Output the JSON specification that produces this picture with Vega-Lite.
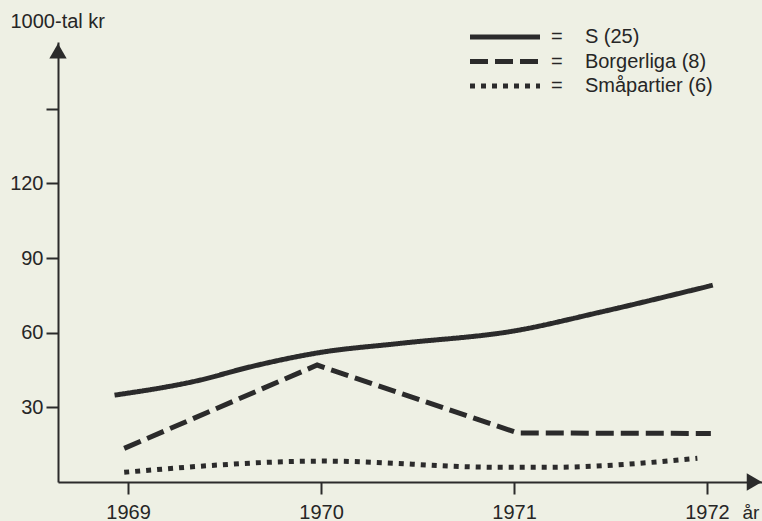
{
  "$schema": "https://vega.github.io/schema/vega-lite/v6.json",
  "width": 704,
  "height": 440,
  "autosize": {"type": "none"},
  "padding": {"left": 58, "top": 42, "right": 0, "bottom": 39},
  "background": "#eef0e4",
  "config": {
    "view": {"stroke": null},
    "font": "Liberation Sans",
    "axis": {
      "grid": false,
      "domainColor": "#2b2b2b",
      "domainWidth": 2,
      "tickColor": "#2b2b2b",
      "tickWidth": 2,
      "tickSize": 12,
      "labelColor": "#262626",
      "labelFontSize": 20,
      "titleColor": "#262626",
      "titleFontSize": 20,
      "titleFontWeight": "normal"
    }
  },
  "data": {
    "values": [
      {"year": 1968.93, "parti": "S (25)", "value": 34.9},
      {"year": 1969.37, "parti": "S (25)", "value": 40.9},
      {"year": 1969.63, "parti": "S (25)", "value": 46.2},
      {"year": 1970.0, "parti": "S (25)", "value": 52.1},
      {"year": 1970.41, "parti": "S (25)", "value": 55.7},
      {"year": 1971.0, "parti": "S (25)", "value": 60.7},
      {"year": 1971.45, "parti": "S (25)", "value": 68.3},
      {"year": 1972.03, "parti": "S (25)", "value": 79.1},
      {"year": 1968.98, "parti": "Borgerliga (8)", "value": 13.5},
      {"year": 1969.98, "parti": "Borgerliga (8)", "value": 47.0},
      {"year": 1971.02, "parti": "Borgerliga (8)", "value": 19.7},
      {"year": 1972.02, "parti": "Borgerliga (8)", "value": 19.5},
      {"year": 1968.98, "parti": "Småpartier (6)", "value": 3.9},
      {"year": 1970.02, "parti": "Småpartier (6)", "value": 8.4},
      {"year": 1970.93, "parti": "Småpartier (6)", "value": 5.9},
      {"year": 1971.18, "parti": "Småpartier (6)", "value": 5.9},
      {"year": 1971.95, "parti": "Småpartier (6)", "value": 9.5}
    ]
  },
  "layer": [
    {
      "transform": [{"filter": "datum.parti !== 'Borgerliga (8)'"}],
      "mark": {"type": "line", "interpolate": "monotone", "strokeWidth": 5, "color": "#2b2b2b", "strokeCap": "butt"},
      "encoding": {
        "x": {
          "field": "year", "type": "quantitative", "title": "år",
          "scale": {"domain": [1968.637, 1972.285], "nice": false, "zero": false},
          "axis": {
            "values": [1969, 1970, 1971, 1972], "format": "d", "labelPadding": 8, "labelFlush": false,
            "titleX": 684, "titleY": 36, "titleAlign": "left", "titleBaseline": "alphabetic", "titleFontSize": 19
          }
        },
        "y": {
          "field": "value", "type": "quantitative", "title": "1000-tal kr",
          "scale": {"domain": [0, 176.8], "nice": false},
          "axis": {
            "values": [30, 60, 90, 120, 150],
            "labelExpr": "datum.value == 150 ? '' : datum.label",
            "labelPadding": 3,
            "titleAngle": 0, "titleX": -48, "titleY": -15, "titleAlign": "left", "titleBaseline": "alphabetic"
          }
        },
        "strokeDash": {
          "field": "parti", "type": "nominal",
          "scale": {
            "domain": ["S (25)", "Borgerliga (8)", "Småpartier (6)"],
            "range": [[1, 0], [18, 7], [5, 6]]
          },
          "legend": {
            "orient": "none", "legendX": 437, "legendY": -15,
            "title": null, "padding": 0,
            "symbolType": "M-5,0L5,0", "symbolSize": 196,
            "symbolStrokeWidth": 5, "symbolStrokeColor": "#2b2b2b", "symbolFillColor": "transparent",
            "labelExpr": "'=\u00a0\u00a0\u00a0\u00a0' + datum.label",
            "labelFontSize": 20, "labelColor": "#262626", "labelOffset": 36, "labelLimit": 400,
            "rowPadding": 4.5
          }
        }
      }
    },
    {
      "transform": [{"filter": "datum.parti === 'Borgerliga (8)'"}],
      "mark": {"type": "line", "interpolate": "linear", "strokeWidth": 5, "color": "#2b2b2b", "strokeCap": "butt", "strokeJoin": "miter"},
      "encoding": {
        "x": {"field": "year", "type": "quantitative", "title": "år"},
        "y": {"field": "value", "type": "quantitative", "title": "1000-tal kr"},
        "strokeDash": {"field": "parti", "type": "nominal"}
      }
    },
    {
      "data": {"values": [{}]},
      "mark": {"type": "point", "shape": "triangle-up", "filled": true, "size": 300, "color": "#2b2b2b", "opacity": 1},
      "encoding": {
        "x": {"datum": 1968.637, "type": "quantitative", "title": "år"},
        "y": {"datum": 173.2, "type": "quantitative", "title": "1000-tal kr"}
      }
    },
    {
      "data": {"values": [{}]},
      "mark": {"type": "point", "shape": "triangle-right", "filled": true, "size": 300, "color": "#2b2b2b", "opacity": 1},
      "encoding": {
        "x": {"datum": 1972.245, "type": "quantitative", "title": "år"},
        "y": {"datum": 0, "type": "quantitative", "title": "1000-tal kr"}
      }
    }
  ]
}
